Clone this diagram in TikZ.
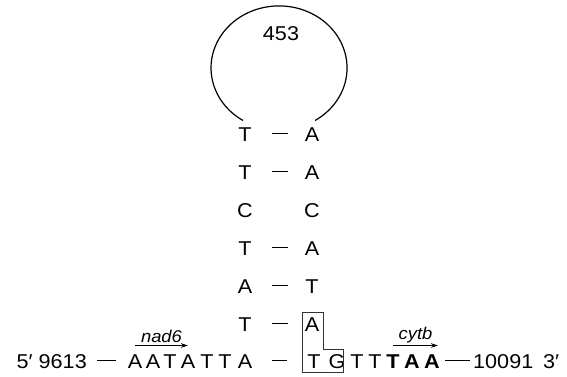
\documentclass[tikz,border=0pt]{standalone}
\usepackage{fontspec}
\setmainfont{Liberation Sans}
\usetikzlibrary{calc,arrows.meta}

\begin{document}
\begin{tikzpicture}
[
	x=1pt,y=1pt,
	base/.style={inner sep=0pt,minimum width=14pt,text height=14.3pt,text depth=0pt,anchor=base,xscale=1.08,font=\fontsize{20}{22}\selectfont},
	label/.style={inner sep=0pt,text height=14.3pt,text depth=0pt,xscale=1.08,font=\fontsize{20}{22}\selectfont},
	bond/.style={line width=1.1pt},
	gene/.style={line width=0.9pt,-{Stealth[length=7pt,width=4.5pt]}},
	genename/.style={above,inner sep=2pt,xscale=1.08,font=\fontsize{17}{19}\selectfont\itshape}
]
	\useasboundingbox (0,0) rectangle (567,376);

	% stem
	\foreach \l/\r [count=\i] in {T/A,T/A,C/C,T/A,A/T,T/A} {
		\node[base] (l\i) at (245,{235-38*(\i-1)}) {\l};
		\node[base] (r\i) at (312,{235-38*(\i-1)}) {\r};
	}
	\foreach \i in {1,2,4,5,6}
		\draw[bond] ($(l\i)!0.4!(r\i)$) -- ($(l\i)!0.64!(r\i)$);

	% loop
	\draw[line width=1.2pt] ([xshift=-2pt,yshift=6pt]l1.north) arc[start angle=238,end angle=-58,x radius=68,y radius=62];
	\node[label] (size) at (281,343) {453};

	% strand
	\node[label,anchor=base east] (five) at (87,8) {5′ 9613};
	\foreach \x/\b [count=\i] in {135/A,153/A,170/T,188/A,207/T,225/T,245/A}
		\node[base] (n\i) at (\x,8) {\b};
	\foreach \x/\b [count=\i] in {314/T,337/G,357/T,375/T}
		\node[base] (c\i) at (\x,8) {\b};
	\foreach \x/\b [count=\i] in {393/T,412/A,432/A}
		\node[base,font=\fontsize{20}{22}\selectfont\bfseries] (s\i) at (\x,8) {\b};
	\node[label,anchor=base west] (three) at (473,8) {10091};
	\node[label,anchor=base west] (end) at (543,8) {3′};

	\draw[bond,shorten <=10pt,shorten >=11pt] (five.east) -- (n1.west);
	\draw[bond] ($(n7)!0.39!(c1)$) -- ($(n7)!0.61!(c1)$);
	\draw[bond,shorten <=5pt,shorten >=3pt] (s3.east) -- (three.west);

	% boxed bases
	\draw[line width=0.9pt,black!80] (302,64) -| (323,27) -| (343,4) -| cycle;

	% genes
	\draw[gene] ([yshift=8pt]n1.north) -- node[genename] (nad) {nad6} ([yshift=8pt]n4.north);
	\draw[gene] ([yshift=8pt]s1.north) -- node[genename] (cyt) {cytb} ([xshift=6pt,yshift=8pt]s3.north);

\end{tikzpicture}
\end{document}
